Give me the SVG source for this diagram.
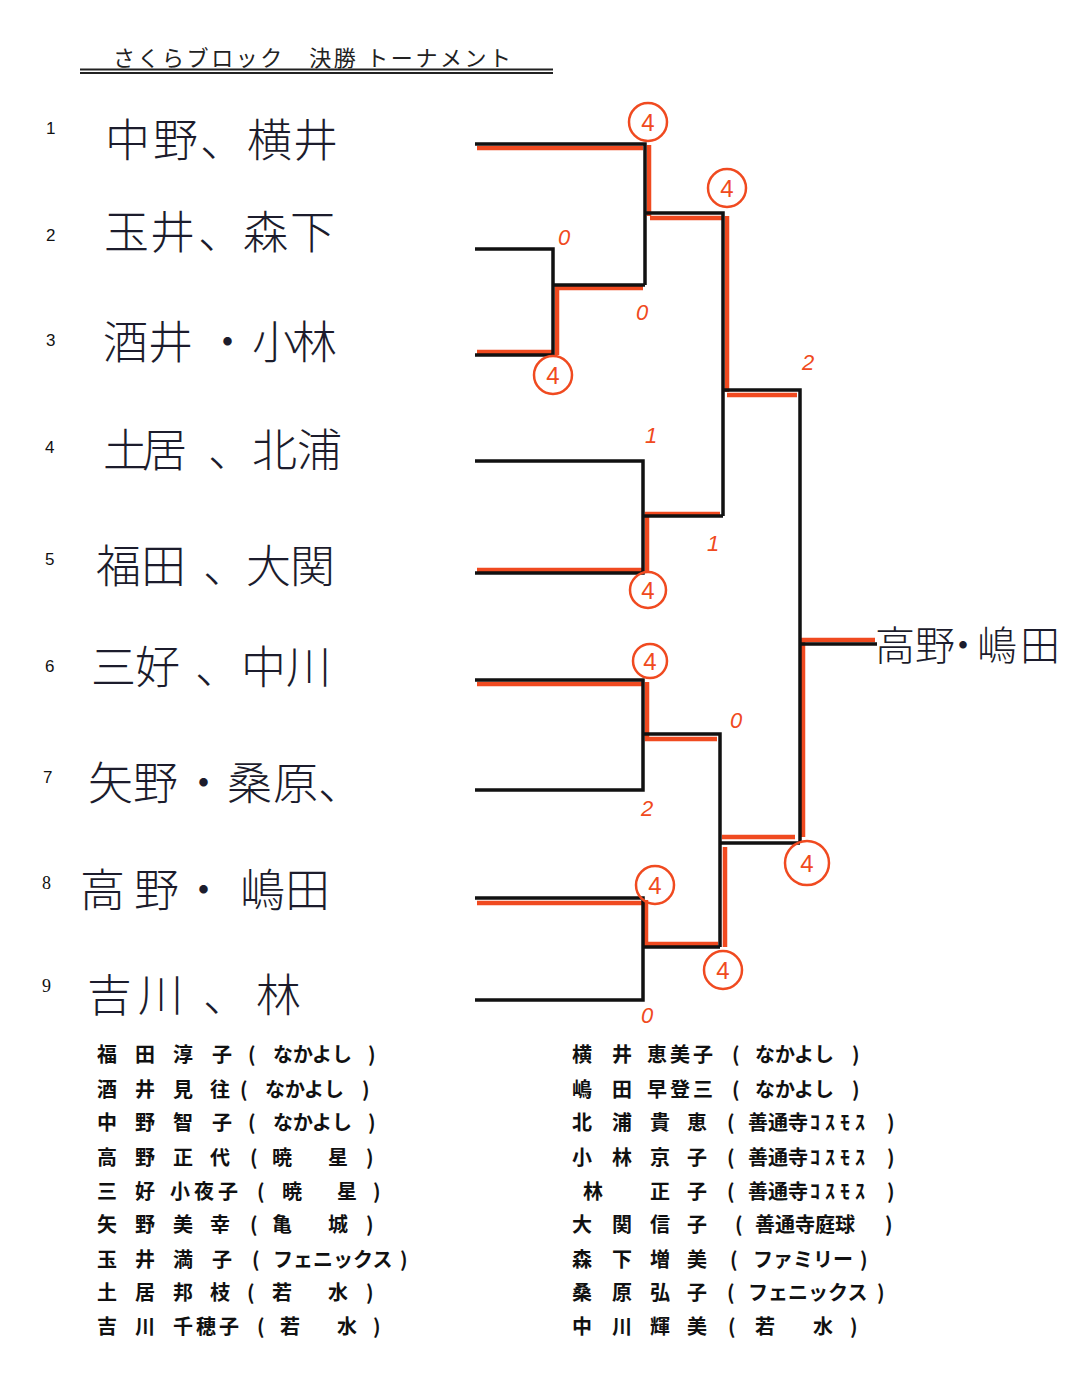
<svg xmlns="http://www.w3.org/2000/svg" width="1083" height="1380" viewBox="0 0 1083 1380">
<style>
.hand{font-family:"Noto Sans CJK JP","Noto Sans CJK SC",sans-serif;font-size:45px;fill:#1c1c2c;font-weight:300}
.win{font-family:"Noto Sans CJK JP","Noto Sans CJK SC",sans-serif;font-size:40px;fill:#1c1c2c;font-weight:300}
.num{font-family:"Liberation Sans",Arial,sans-serif;font-size:17px;fill:#111}
.numS{font-family:"Liberation Serif","Times New Roman",serif;font-size:18px;fill:#111}
.list{font-family:"Noto Sans CJK JP","Noto Sans CJK SC",sans-serif;font-size:20px;font-weight:700;fill:#111}
.title{font-family:"Liberation Serif","Noto Sans CJK JP",serif;font-size:22px;fill:#222}
.score{font-family:"Liberation Sans",Arial,sans-serif;font-style:italic;font-size:22px;fill:#f04a20}
.c4{fill:none;stroke:#f04a20;stroke-width:2.5}
.c4t{font-family:"Liberation Sans",Arial,sans-serif;font-size:24px;fill:#f04a20;text-anchor:middle}
.blk{fill:none;stroke:#111;stroke-width:3.5}
.red{fill:none;stroke:#f04a20;stroke-width:4.5}
</style>
<rect width="1083" height="1380" fill="#fff"/>
<g id="title">
<text class="title" x="113" y="66" textLength="398" lengthAdjust="spacing">さくらブロック　決勝 トーナメント</text>
<line x1="80" y1="69.5" x2="553" y2="69.5" stroke="#222" stroke-width="1.8"/>
<line x1="80" y1="73" x2="553" y2="73" stroke="#222" stroke-width="1.8"/>
</g>
<g id="connectors">
<g id="red-path">
<path class="red" d="M477,148 H643 M649,145 V216 M650,218 H723 M727,216 V392 M727,395 H797"/>
<path class="red" d="M477,352 H553 M557,355 V288 H643"/>
<path class="red" d="M477,570 H643 M647,573 V514 H720"/>
<path class="red" d="M477,684 H643 M647,682 V739 H717"/>
<path class="red" d="M477,903 H643 M646,900 V944 H718 M725,947 V847 M722,837 H795 M803,837 V640 H875"/>
</g>
<g id="black-path">
<path class="blk" d="M475,144 H645 V285"/>
<path class="blk" d="M475,249 H553 V355 H475 M553,285 H645"/>
<path class="blk" d="M645,213 H723 V516"/>
<path class="blk" d="M475,461 H643 V573 H475 M643,516 H723"/>
<path class="blk" d="M723,390 H800 V843 M800,644 H877"/>
<path class="blk" d="M475,680 H643 V790 H475 M643,734 H720 V947"/>
<path class="blk" d="M475,898 H643 V1000 H475 M643,947 H720 M720,843 H800"/>
</g>
</g>
<g id="entry-1"><text class="num" x="46" y="134">1</text><text class="hand" x="105 153 200 247 293" y="157">中野、横井</text></g>
<g id="entry-2"><text class="num" x="46" y="241">2</text><text class="hand" x="104 150 198 243 290" y="249">玉井、森下</text></g>
<g id="entry-3"><text class="num" x="46" y="346">3</text><text class="hand" x="103 148 205 252 292" y="359">酒井・小林</text></g>
<g id="entry-4"><text class="num" x="45" y="453">4</text><text class="hand" x="103 142 208 252 297" y="467">土居、北浦</text></g>
<g id="entry-5"><text class="num" x="45" y="565">5</text><text class="hand" x="96 141 203 246 290" y="583">福田、大関</text></g>
<g id="entry-6"><text class="num" x="45" y="672">6</text><text class="hand" x="91 135 195 241 286" y="684">三好、中川</text></g>
<g id="entry-7"><text class="num" x="43" y="783">7</text><text class="hand" x="88 133 181 227 273 318" y="800">矢野・桑原、</text></g>
<g id="entry-8"><text class="numS" x="42" y="889">8</text><text class="hand" x="80 134 181 240 285" y="907">高野・嶋田</text></g>
<g id="entry-9"><text class="numS" x="42" y="992">9</text><text class="hand" x="87 138 203 256" y="1012">吉川、林</text></g>
<g id="winner"><text class="win" x="875 915 943 977 1020" y="660">高野・嶋田</text></g>
<g id="scores">
<circle class="c4" cx="648" cy="122" r="19"/><text class="c4t" x="648" y="131">4</text>
<circle class="c4" cx="727" cy="188" r="19"/><text class="c4t" x="727" y="197">4</text>
<circle class="c4" cx="553" cy="375" r="19"/><text class="c4t" x="553" y="384">4</text>
<circle class="c4" cx="648" cy="590" r="18"/><text class="c4t" x="648" y="599">4</text>
<circle class="c4" cx="650" cy="661" r="17"/><text class="c4t" x="650" y="670">4</text>
<circle class="c4" cx="807" cy="863" r="22"/><text class="c4t" x="807" y="872">4</text>
<circle class="c4" cx="655" cy="885" r="19"/><text class="c4t" x="655" y="894">4</text>
<circle class="c4" cx="723" cy="970" r="19"/><text class="c4t" x="723" y="979">4</text>
<text class="score" x="558" y="245">0</text>
<text class="score" x="636" y="320">0</text>
<text class="score" x="802" y="370">2</text>
<text class="score" x="645" y="443">1</text>
<text class="score" x="707" y="551">1</text>
<text class="score" x="730" y="728">0</text>
<text class="score" x="641" y="816">2</text>
<text class="score" x="641" y="1023">0</text>
</g>
<g id="roster-left" class="list">
<text y="1062"><tspan x="97">福</tspan><tspan x="135">田</tspan><tspan x="173">淳</tspan><tspan x="212">子</tspan><tspan x="248">(</tspan><tspan x="273">なかよし</tspan><tspan x="368">)</tspan></text>
<text y="1097"><tspan x="97">酒</tspan><tspan x="135">井</tspan><tspan x="173">見</tspan><tspan x="210">往</tspan><tspan x="240">(</tspan><tspan x="265">なかよし</tspan><tspan x="362">)</tspan></text>
<text y="1130"><tspan x="97">中</tspan><tspan x="135">野</tspan><tspan x="173">智</tspan><tspan x="212">子</tspan><tspan x="248">(</tspan><tspan x="273">なかよし</tspan><tspan x="368">)</tspan></text>
<text y="1165"><tspan x="97">高</tspan><tspan x="135">野</tspan><tspan x="173">正</tspan><tspan x="210">代</tspan><tspan x="250">(</tspan><tspan x="272">暁</tspan><tspan x="328">星</tspan><tspan x="366">)</tspan></text>
<text y="1199"><tspan x="97">三</tspan><tspan x="135">好</tspan><tspan x="170" letter-spacing="4">小夜子</tspan><tspan x="257">(</tspan><tspan x="282">暁</tspan><tspan x="337">星</tspan><tspan x="373">)</tspan></text>
<text y="1232"><tspan x="97">矢</tspan><tspan x="135">野</tspan><tspan x="173">美</tspan><tspan x="210">幸</tspan><tspan x="250">(</tspan><tspan x="272">亀</tspan><tspan x="328">城</tspan><tspan x="366">)</tspan></text>
<text y="1267"><tspan x="97">玉</tspan><tspan x="135">井</tspan><tspan x="173">満</tspan><tspan x="212">子</tspan><tspan x="252">(</tspan><tspan x="273">フェニックス</tspan><tspan x="400">)</tspan></text>
<text y="1300"><tspan x="97">土</tspan><tspan x="135">居</tspan><tspan x="173">邦</tspan><tspan x="210">枝</tspan><tspan x="247">(</tspan><tspan x="272">若</tspan><tspan x="328">水</tspan><tspan x="366">)</tspan></text>
<text y="1334"><tspan x="97">吉</tspan><tspan x="135">川</tspan><tspan x="173" letter-spacing="3">千穂子</tspan><tspan x="257">(</tspan><tspan x="280">若</tspan><tspan x="337">水</tspan><tspan x="373">)</tspan></text>
</g>
<g id="roster-right" class="list">
<text y="1062"><tspan x="572">横</tspan><tspan x="612">井</tspan><tspan x="647" letter-spacing="3">恵美子</tspan><tspan x="732">(</tspan><tspan x="755">なかよし</tspan><tspan x="852">)</tspan></text>
<text y="1097"><tspan x="572">嶋</tspan><tspan x="612">田</tspan><tspan x="647" letter-spacing="3">早登三</tspan><tspan x="732">(</tspan><tspan x="755">なかよし</tspan><tspan x="852">)</tspan></text>
<text y="1130"><tspan x="572">北</tspan><tspan x="612">浦</tspan><tspan x="650">貴</tspan><tspan x="687">恵</tspan><tspan x="727">(</tspan><tspan x="748">善通寺</tspan><tspan x="810" letter-spacing="5">ｺｽﾓｽ</tspan><tspan x="887">)</tspan></text>
<text y="1165"><tspan x="572">小</tspan><tspan x="612">林</tspan><tspan x="650">京</tspan><tspan x="687">子</tspan><tspan x="727">(</tspan><tspan x="748">善通寺</tspan><tspan x="810" letter-spacing="5">ｺｽﾓｽ</tspan><tspan x="887">)</tspan></text>
<text y="1199"><tspan x="583">林</tspan><tspan x="650">正</tspan><tspan x="687">子</tspan><tspan x="727">(</tspan><tspan x="748">善通寺</tspan><tspan x="810" letter-spacing="5">ｺｽﾓｽ</tspan><tspan x="887">)</tspan></text>
<text y="1232"><tspan x="572">大</tspan><tspan x="612">関</tspan><tspan x="650">信</tspan><tspan x="687">子</tspan><tspan x="735">(</tspan><tspan x="755">善通寺庭球</tspan><tspan x="885">)</tspan></text>
<text y="1267"><tspan x="572">森</tspan><tspan x="612">下</tspan><tspan x="650">増</tspan><tspan x="687">美</tspan><tspan x="730">(</tspan><tspan x="753">ファミリー</tspan><tspan x="860">)</tspan></text>
<text y="1300"><tspan x="572">桑</tspan><tspan x="612">原</tspan><tspan x="650">弘</tspan><tspan x="687">子</tspan><tspan x="727">(</tspan><tspan x="748">フェニックス</tspan><tspan x="877">)</tspan></text>
<text y="1334"><tspan x="572">中</tspan><tspan x="612">川</tspan><tspan x="650">輝</tspan><tspan x="687">美</tspan><tspan x="728">(</tspan><tspan x="755">若</tspan><tspan x="813">水</tspan><tspan x="850">)</tspan></text>
</g>
</svg>
